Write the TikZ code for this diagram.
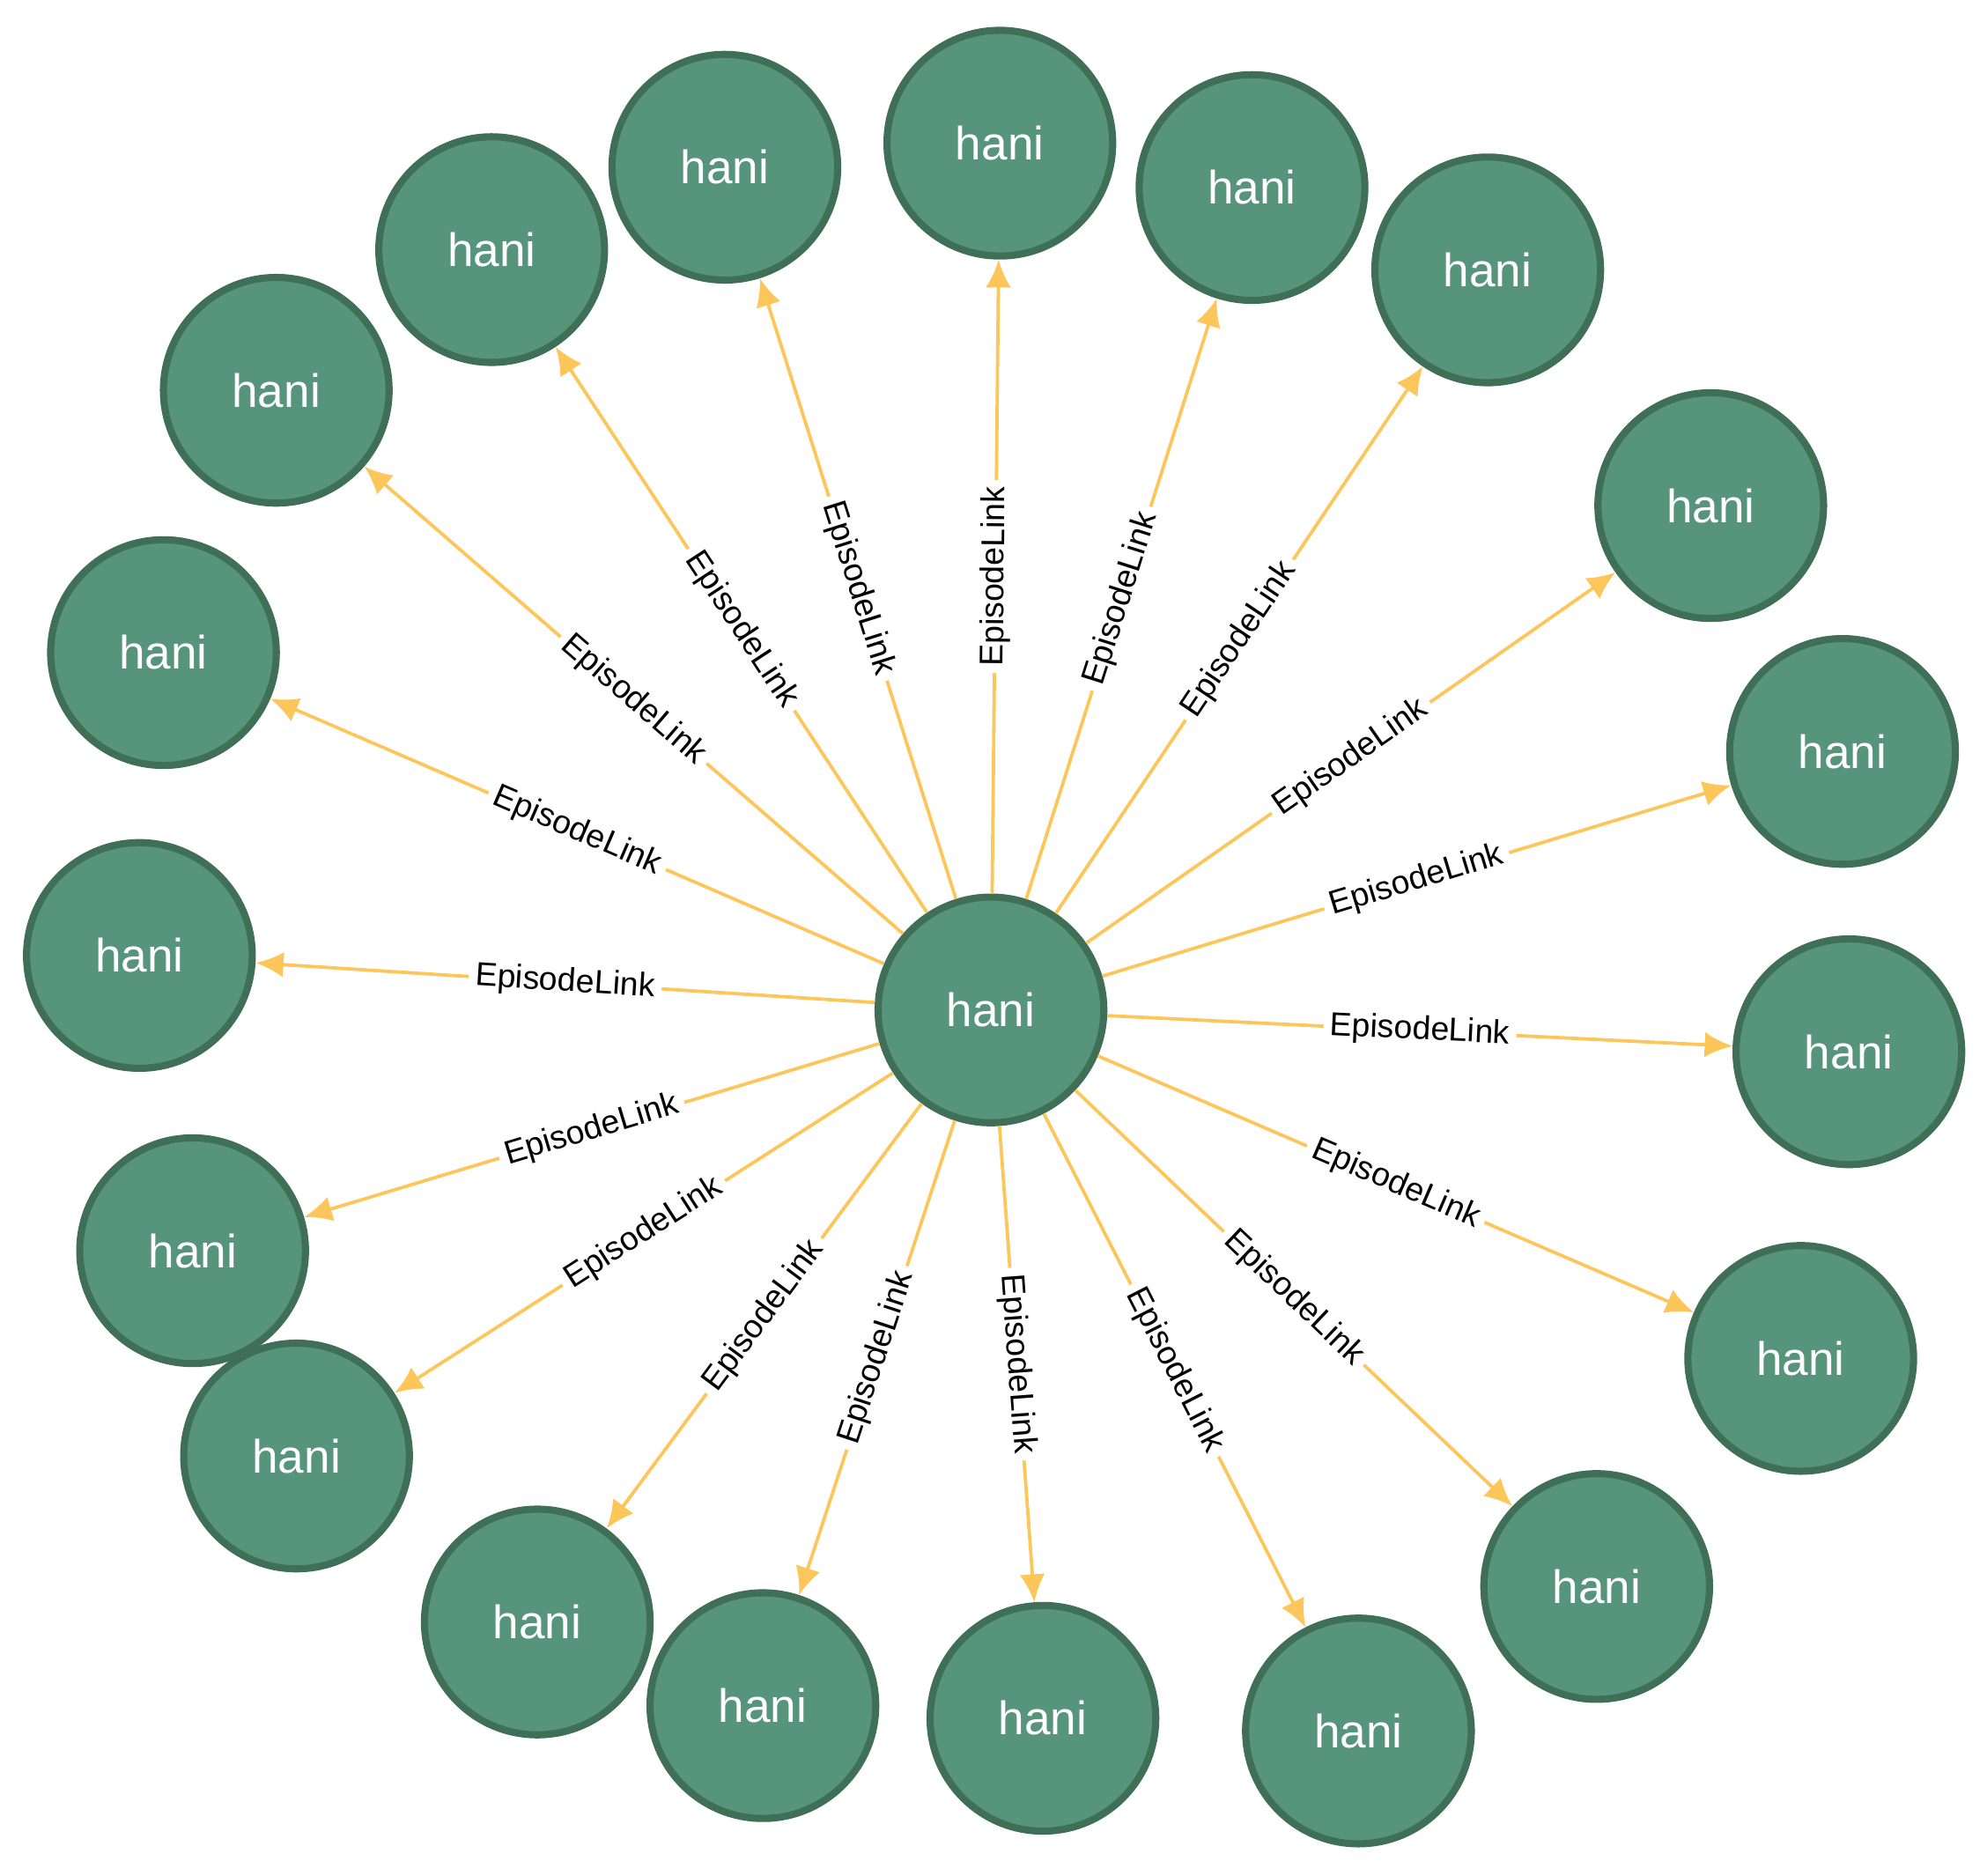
\documentclass[tikz,border=0pt]{standalone}
\usepackage{fontspec}
\setmainfont{Liberation Sans}
\usetikzlibrary{arrows.meta}
\definecolor{nfill}{HTML}{57947C}
\definecolor{nbord}{HTML}{3F6F57}
\definecolor{edgec}{HTML}{FDC65A}
\tikzset{
  hn/.style={circle,fill=nfill,draw=nbord,line width=1.6pt,minimum size=1.78cm,inner sep=0pt,text=white,font=\fontsize{10.5}{12}\selectfont},
  ed/.style={draw=edgec,line width=0.75pt,-{Latex[length=2.2mm,width=2mm]}},
  lb/.style={sloped,fill=white,inner sep=1.5pt,font=\fontsize{7.4}{9}\selectfont,text=black}
}
\begin{document}
\begin{tikzpicture}[x=0.01cm,y=-0.01cm]
\useasboundingbox (0,0) rectangle (1568,1480);
\node[hn] (c) at (782,797) {hani};
\foreach \i/\x/\y in {1/789/113,2/988/148,3/1174/213,4/1350/399,5/1454/593,6/1459/830,7/1421/1072,8/1260/1252,9/1072/1366,10/823/1356,11/602/1346,12/424/1280,13/234/1149,14/152/987,15/110/754,16/129/515,17/218/308,18/388/197,19/572/132}{
  \node[hn] (n\i) at (\x,\y) {hani};
  \draw[ed] (c) -- node[lb]{EpisodeLink} (n\i);
}
\end{tikzpicture}
\end{document}
